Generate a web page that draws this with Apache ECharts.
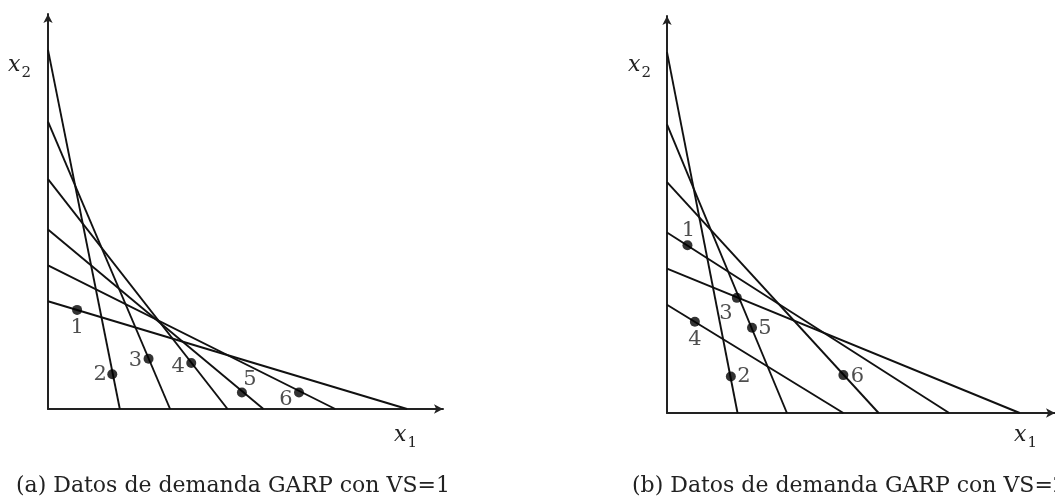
<!DOCTYPE html>
<html>
<head>
<meta charset="utf-8">
<script src="https://cdn.jsdelivr.net/npm/echarts@6/dist/echarts.min.js"></script>
<style>
  html, body { margin: 0; padding: 0; background: #fff; }
  #grafico { width: 1055px; height: 504px; }
</style>
</head>
<body>
<div id="grafico"></div>
<script>
// ---------- datos panel (a) ----------
var corteY_a = [10, 8, 6.4, 5, 4, 3];
var corteX_a = [2, 3.4, 5, 6, 8, 10];
var puntosX1_a = [0.81, 1.79, 2.80, 3.99, 5.40, 6.99];
var puntosX2_a = [2.76, 0.97, 1.40, 1.28, 0.46, 0.46];

// ---------- datos panel (b) ----------
var corteY_b = [10, 8, 6.4, 5, 4, 3];
var corteX_b = [2, 3.4, 6, 8, 10, 5];
var puntosX1_b = [0.58, 1.81, 1.98, 0.79, 2.41, 5.00];
var puntosX2_b = [4.65, 1.01, 3.19, 2.53, 2.36, 1.05];

var etiquetas = ['1', '2', '3', '4', '5', '6'];

// desplazamiento de cada numero respecto a su punto (px)
var despl_a = [[0, 18], [-12, 0], [-13, 2], [-13, 4], [8, -13], [-13, 7]];
var despl_b = [[1, -15], [13, 0], [-11, 16], [0, 18], [13, 1], [14, 1]];

var fuente = 'DejaVu Serif';
var negro = '#111';

function ejes(idx) {
  var base = {
    gridIndex: idx,
    type: 'value',
    min: 0,
    max: 11,
    axisTick: { show: false },
    axisLabel: { show: false },
    splitLine: { show: false },
    axisLine: {
      onZero: false,
      symbol: ['none', 'arrow'],
      symbolSize: [7, 9],
      lineStyle: { color: '#222', width: 2 }
    }
  };
  return base;
}

function rectas(cy, cx, idx) {
  return cy.map(function (y, i) {
    return {
      type: 'line',
      xAxisIndex: idx,
      yAxisIndex: idx,
      data: [[0, y], [cx[i], 0]],
      showSymbol: false,
      silent: true,
      lineStyle: { color: negro, width: 1.9 },
      z: 3
    };
  });
}

function puntos(px, py, despl, idx) {
  var datos = px.map(function (x, i) {
    return {
      value: [x, py[i]],
      label: {
        show: true,
        formatter: etiquetas[i],
        position: 'inside',
        offset: despl[i],
        color: '#222',
        fontFamily: fuente,
        fontSize: 21
      }
    };
  });
  return {
    type: 'scatter',
    xAxisIndex: idx,
    yAxisIndex: idx,
    data: datos,
    symbol: 'circle',
    symbolSize: 10,
    itemStyle: { color: '#000' },
    silent: true,
    z: 5
  };
}

function nombreEje(x, y, sub) {
  return {
    type: 'text',
    left: x,
    top: y,
    style: {
      text: '{i|x}{s|' + sub + '}',
      rich: {
        i: { fontFamily: fuente, fontStyle: 'italic', fontSize: 22, fill: '#222', verticalAlign: 'top' },
        s: { fontFamily: fuente, fontSize: 15, fill: '#222', verticalAlign: 'top', padding: [12, 0, 0, 1] }
      }
    }
  };
}

function titulo(x, y, txt) {
  return {
    type: 'text',
    left: x,
    top: y,
    style: { text: txt, fontFamily: fuente, fontSize: 22, fill: '#222' }
  };
}

var chart = echarts.init(document.getElementById('grafico'));

var series = []
  .concat(rectas(corteY_a, corteX_a, 0))
  .concat(rectas(corteY_b, corteX_b, 1));
series.push(puntos(puntosX1_a, puntosX2_a, despl_a, 0));
series.push(puntos(puntosX1_b, puntosX2_b, despl_b, 1));

chart.setOption({
  animation: false,
  backgroundColor: '#fff',
  grid: [
    { left: 48, top: 14, width: 395, height: 395 },
    { left: 667, top: 16, width: 397, height: 397 }
  ],
  xAxis: [ejes(0), ejes(1)],
  yAxis: [ejes(0), ejes(1)],
  series: series,
  graphic: [
    nombreEje(8, 54, '2'),
    nombreEje(628, 54, '2'),
    nombreEje(394, 424, '1'),
    nombreEje(1014, 424, '1'),
    titulo(16, 475, '(a) Datos de demanda GARP con VS=1'),
    titulo(632, 475, '(b) Datos de demanda GARP con VS=2')
  ]
});
</script>
</body>
</html>
